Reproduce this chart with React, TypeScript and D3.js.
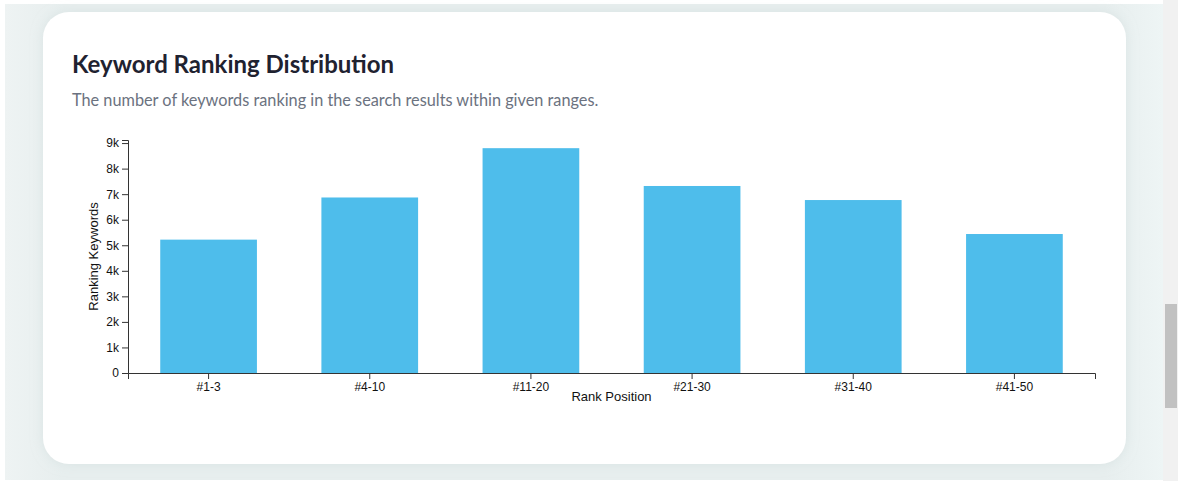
import React, { useEffect, useRef } from 'react';
import * as d3 from 'd3';

const categories = ['#1-3', '#4-10', '#11-20', '#21-30', '#31-40', '#41-50'];
const keywordCounts = [5220, 6870, 8800, 7320, 6770, 5440];
const yTicks = [0, 1000, 2000, 3000, 4000, 5000, 6000, 7000, 8000, 9000];

const W = 1178;
const H = 481;

const App = () => {
    const gRef = useRef<SVGGElement>(null);

    useEffect(() => {
        if (!gRef.current) return;
        const g = d3.select(gRef.current);
        g.selectAll('*').remove();

        // plot area
        const left = 128, right = 1095, top = 140, bottom = 373;

        const x = d3.scaleBand<string>()
            .domain(categories)
            .range([left, right])
            .paddingInner(0.4)
            .paddingOuter(0.2);

        const y = d3.scaleLinear()
            .domain([0, 9120])
            .range([bottom, top]);

        g.selectAll('rect.bar')
            .data(categories)
            .enter()
            .append('rect')
            .attr('class', 'bar')
            .attr('x', d => x(d) as number)
            .attr('width', x.bandwidth())
            .attr('y', (d, i) => y(keywordCounts[i]))
            .attr('height', (d, i) => bottom - y(keywordCounts[i]))
            .attr('fill', '#4ebdeb');

        const xAxis = g.append('g')
            .attr('transform', `translate(0,${bottom})`)
            .call(d3.axisBottom(x).tickSizeOuter(6));

        const yAxis = g.append('g')
            .attr('transform', `translate(${left},0)`)
            .call(d3.axisLeft(y).tickValues(yTicks).tickFormat(d => (+d === 0 ? '0' : `${+d / 1000}k`)));

        [xAxis, yAxis].forEach(a => {
            a.selectAll('path, line').attr('stroke', '#333');
            a.selectAll('text')
                .attr('fill', '#111')
                .attr('font-size', 12)
                .attr('font-family', 'Liberation Sans, Arial, sans-serif');
        });

        g.append('text')
            .attr('x', (left + right) / 2)
            .attr('y', 401)
            .attr('text-anchor', 'middle')
            .attr('font-size', 13)
            .attr('font-family', 'Liberation Sans, Arial, sans-serif')
            .attr('fill', '#111')
            .text('Rank Position');

        g.append('text')
            .attr('transform', `translate(98,${(top + bottom) / 2}) rotate(-90)`)
            .attr('text-anchor', 'middle')
            .attr('font-size', 13)
            .attr('font-family', 'Liberation Sans, Arial, sans-serif')
            .attr('fill', '#111')
            .text('Ranking Keywords');
    }, []);

    return (
        <svg width={W} height={H} style={{ position: 'absolute', left: 0, top: 0 }}>
            <defs>
                <linearGradient id="bgGrad" x1="0" x2="1" y1="0" y2="0">
                    <stop offset="0" stopColor="#eef3f3" />
                    <stop offset="0.05" stopColor="#e7eeee" />
                    <stop offset="0.95" stopColor="#e7eeee" />
                    <stop offset="1" stopColor="#eef5f5" />
                </linearGradient>
                <filter id="shadow" x="-5%" y="-10%" width="110%" height="120%">
                    <feDropShadow dx="0" dy="0" stdDeviation="6" floodColor="#cfdcdc" floodOpacity="0.6" />
                </filter>
            </defs>
            <rect x={0} y={0} width={W} height={H} fill="#fff" />
            <rect x={5} y={4} width={1158} height={476} fill="url(#bgGrad)" />
            <rect x={43} y={12} width={1083} height={452} rx={26} fill="#fff" filter="url(#shadow)" />
            {/* scrollbar */}
            <rect x={1163} y={0} width={15} height={H} fill="#f1f1f1" />
            <rect x={1165} y={304} width={12} height={104} fill="#c1c1c1" />
            <text x={72} y={73} fontFamily="Lato, sans-serif" fontWeight={700} fontSize={24} fill="#1f2230">
                Keyword Ranking Distribution
            </text>
            <text x={72} y={106} fontFamily="Lato, sans-serif" fontSize={16.3} fill="#6b7280">
                The number of keywords ranking in the search results within given ranges.
            </text>
            <g ref={gRef} />
        </svg>
    );
};

export default App;
